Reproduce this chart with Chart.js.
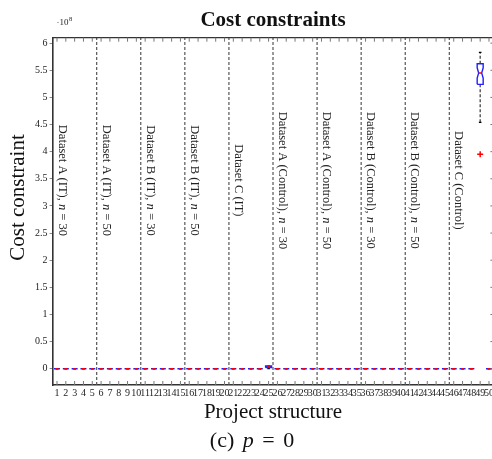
<!DOCTYPE html>
<html>
<head>
<meta charset="utf-8">
<script src="https://cdn.jsdelivr.net/npm/chart.js@4.4.1/dist/chart.umd.min.js"></script>
<style>
html, body { margin: 0; padding: 0; overflow: hidden; background: #fff; }
#wrap { position: relative; width: 500px; height: 459px; }
#caption { position: absolute; left: 0; width: 504px; top: 429px; text-align: center;
  font: 22px "Liberation Serif", serif; line-height: 22px; word-spacing: 3px; color: #111; }
</style>
</head>
<body>
<div id="wrap">
<canvas id="chart" width="500" height="459"></canvas>
<div id="caption">(c) <i>p</i> = 0</div>
</div>
<script>
// project structures 1..50, values in units of 1e8
var structures = [1, 2, 3, 4, 5, 6, 7, 8, 9, 10, 11, 12, 13, 14, 15, 16, 17, 18, 19, 20,
    21, 22, 23, 24, 25, 26, 27, 28, 29, 30, 31, 32, 33, 34, 35, 36, 37, 38, 39, 40,
    41, 42, 43, 44, 45, 46, 47, 48, 49, 50];
var q1 = [0, 0, 0, 0, 0, 0, 0, 0, 0, 0, 0, 0, 0, 0, 0, 0, 0, 0, 0, 0,
    0, 0, 0, 0, 0.02, 0, 0, 0, 0, 0, 0, 0, 0, 0, 0, 0, 0, 0, 0, 0,
    0, 0, 0, 0, 0, 0, 0, 0, 5.24, 0];
var median = [0, 0, 0, 0, 0, 0, 0, 0, 0, 0, 0, 0, 0, 0, 0, 0, 0, 0, 0, 0,
    0, 0, 0, 0, 0.035, 0, 0, 0, 0, 0, 0, 0, 0, 0, 0, 0, 0, 0, 0, 0,
    0, 0, 0, 0, 0, 0, 0, 0, 5.45, 0];
var q3 = [0, 0, 0, 0, 0, 0, 0, 0, 0, 0, 0, 0, 0, 0, 0, 0, 0, 0, 0, 0,
    0, 0, 0, 0, 0.05, 0, 0, 0, 0, 0, 0, 0, 0, 0, 0, 0, 0, 0, 0, 0,
    0, 0, 0, 0, 0, 0, 0, 0, 5.62, 0];
var whiskerLo = [0, 0, 0, 0, 0, 0, 0, 0, 0, 0, 0, 0, 0, 0, 0, 0, 0, 0, 0, 0,
    0, 0, 0, 0, 0, 0, 0, 0, 0, 0, 0, 0, 0, 0, 0, 0, 0, 0, 0, 0,
    0, 0, 0, 0, 0, 0, 0, 0, 4.54, 0];
var whiskerHi = [0, 0, 0, 0, 0, 0, 0, 0, 0, 0, 0, 0, 0, 0, 0, 0, 0, 0, 0, 0,
    0, 0, 0, 0, 0.05, 0, 0, 0, 0, 0, 0, 0, 0, 0, 0, 0, 0, 0, 0, 0,
    0, 0, 0, 0, 0, 0, 0, 0, 5.83, 0];
var outlierStructure = [49];
var outlierValue = [3.95];

var separators = [5.5, 10.5, 15.5, 20.5, 25.5, 30.5, 35.5, 40.5, 45.5];
var groupNames = ['Dataset A (IT)', 'Dataset A (IT)', 'Dataset B (IT)', 'Dataset B (IT)', 'Dataset C (IT)',
    'Dataset A (Control)', 'Dataset A (Control)', 'Dataset B (Control)', 'Dataset B (Control)', 'Dataset C (Control)'];
var groupSizes = [30, 50, 30, 50, null, 30, 50, 30, 50, null];
var yTicks = [0, 0.5, 1, 1.5, 2, 2.5, 3, 3.5, 4, 4.5, 5, 5.5, 6];

var yMin = -0.3, yMax = 6.1;
var boxHalf = 0.34;
var serif = '"Liberation Serif", "Times New Roman", serif';

Chart.defaults.font.family = serif;
Chart.defaults.color = '#222';

// separator lines between dataset groups
var sepData = [];
separators.forEach(function (s) {
    sepData.push({x: s, y: yMin}, {x: s, y: yMax}, {x: s, y: null});
});

// notched box outlines, whiskers and whisker ends
var boxData = [], whiskerData = [], capData = [], medianData = [];
structures.forEach(function (s, i) {
    var notch = 0.25 * (q3[i] - q1[i]);
    var nLo = Math.max(q1[i], median[i] - notch), nHi = Math.min(q3[i], median[i] + notch);
    boxData.push(
        {x: s - boxHalf, y: q1[i]}, {x: s - boxHalf, y: nLo}, {x: s - boxHalf / 2, y: median[i]},
        {x: s - boxHalf, y: nHi}, {x: s - boxHalf, y: q3[i]}, {x: s + boxHalf, y: q3[i]},
        {x: s + boxHalf, y: nHi}, {x: s + boxHalf / 2, y: median[i]}, {x: s + boxHalf, y: nLo},
        {x: s + boxHalf, y: q1[i]}, {x: s - boxHalf, y: q1[i]}, {x: s, y: null});
    whiskerData.push({x: s, y: q3[i]}, {x: s, y: whiskerHi[i]}, {x: s, y: null},
        {x: s, y: q1[i]}, {x: s, y: whiskerLo[i]}, {x: s, y: null});
    capData.push({x: s, y: whiskerHi[i]}, {x: s, y: whiskerLo[i]});
    medianData.push({x: s, y: median[i]});
});
var outlierData = outlierStructure.map(function (s, i) { return {x: s, y: outlierValue[i]}; });

var decorations = {
    id: 'decorations',
    afterDraw: function (chart) {
        var ctx = chart.ctx, a = chart.chartArea, xs = chart.scales.x, ys = chart.scales.y;
        ctx.save();
        // top and right frame
        ctx.strokeStyle = '#333';
        ctx.lineWidth = 1.2;
        ctx.beginPath();
        ctx.moveTo(a.left, a.top);
        ctx.lineTo(a.right, a.top);
        ctx.lineTo(a.right, a.bottom);
        ctx.stroke();
        // inward ticks
        ctx.strokeStyle = '#777';
        ctx.lineWidth = 1;
        ctx.beginPath();
        xs.ticks.forEach(function (t) {
            var px = xs.getPixelForValue(t.value);
            ctx.moveTo(px, a.bottom); ctx.lineTo(px, a.bottom - 4);
            ctx.moveTo(px, a.top); ctx.lineTo(px, a.top + 4);
        });
        ys.ticks.forEach(function (t) {
            var py = ys.getPixelForValue(t.value);
            ctx.moveTo(a.right, py); ctx.lineTo(a.right - 3, py);
        });
        ctx.stroke();

        // group labels, rotated
        var starts = [0.5].concat(separators);
        ctx.fillStyle = '#222';
        ctx.textBaseline = 'middle';
        ctx.textAlign = 'left';
        var normal = '12.5px ' + serif, italic = 'italic 12.5px ' + serif;
        groupNames.forEach(function (name, i) {
            var parts = [[name, normal]];
            if (groupSizes[i] !== null) {
                parts = [[name + ', ', normal], ['n', italic], [' = ' + groupSizes[i], normal]];
            }
            var total = 0;
            parts.forEach(function (p) { ctx.font = p[1]; total += ctx.measureText(p[0]).width; });
            ctx.save();
            ctx.translate(xs.getPixelForValue(starts[i] + 1.05), ys.getPixelForValue(3.47));
            ctx.rotate(Math.PI / 2);
            var pos = -total / 2;
            parts.forEach(function (p) {
                ctx.font = p[1];
                ctx.fillText(p[0], pos, 0);
                pos += ctx.measureText(p[0]).width;
            });
            ctx.restore();
        });

        // exponent marker
        ctx.textAlign = 'left';
        ctx.textBaseline = 'alphabetic';
        ctx.font = '9px ' + serif;
        ctx.fillText('\u00b710', a.left + 4, 25);
        var w = ctx.measureText('\u00b710').width;
        ctx.font = '6.5px ' + serif;
        ctx.fillText('8', a.left + 4 + w + 0.5, 21);

        // y axis title
        ctx.save();
        ctx.translate(18, 197.5);
        ctx.rotate(-Math.PI / 2);
        ctx.font = '21px ' + serif;
        ctx.textAlign = 'center';
        ctx.textBaseline = 'middle';
        ctx.fillStyle = '#111';
        ctx.fillText('Cost constraint', 0, 0);
        ctx.restore();
        ctx.restore();
    }
};

new Chart(document.getElementById('chart'), {
    type: 'scatter',
    data: {
        datasets: [
            {
                type: 'line', data: sepData, borderColor: '#555', borderWidth: 1.2,
                borderDash: [3, 2], pointRadius: 0, spanGaps: false, order: 10
            },
            {
                type: 'line', data: whiskerData, borderColor: '#333', borderWidth: 1.2,
                borderDash: [3, 2], pointRadius: 0, spanGaps: false, order: 6
            },
            {
                type: 'scatter', data: capData, pointStyle: 'line', pointRadius: 1.3,
                borderColor: '#000', borderWidth: 1.2, order: 5
            },
            {
                type: 'line', data: boxData, borderColor: '#2020ff', borderWidth: 1.4,
                pointRadius: 0, spanGaps: false, order: 4
            },
            {
                type: 'scatter', data: medianData, pointStyle: 'line', pointRadius: 1.5,
                borderColor: '#ff0000', borderWidth: 1.5, order: 2
            },
            {
                type: 'scatter', data: outlierData, pointStyle: 'cross', pointRadius: 3,
                borderColor: '#ff0000', borderWidth: 1.5, order: 1
            }
        ]
    },
    options: {
        responsive: false,
        animation: false,
        layout: { padding: { left: 0, right: 6.6, top: 0, bottom: 33.5 } },
        plugins: {
            legend: { display: false },
            tooltip: { enabled: false },
            title: {
                display: true, text: 'Cost constraints', fullSize: false, color: '#111',
                font: { size: 21, weight: 'bold' }, padding: { top: 8.4, bottom: 4.1 }
            }
        },
        scales: {
            x: {
                type: 'linear', min: 0.5, max: 50.5,
                afterBuildTicks: function (s) { s.ticks = structures.map(function (v) { return {value: v}; }); },
                afterFit: function (s) { s.height = 40.5; },
                ticks: {
                    autoSkip: false, maxRotation: 0, minRotation: 0, padding: 2,
                    font: { size: 10 }, color: '#222',
                    callback: function (v) { return String(v); }
                },
                grid: { drawOnChartArea: false, drawTicks: false },
                border: { color: '#333', width: 1.6 },
                title: { display: true, text: 'Project structure', font: { size: 21 }, padding: 0, color: '#111' }
            },
            y: {
                min: yMin, max: yMax,
                afterBuildTicks: function (s) { s.ticks = yTicks.map(function (v) { return {value: v}; }); },
                afterFit: function (s) { s.width = 52.6; },
                ticks: {
                    font: { size: 10 }, color: '#222', padding: 2,
                    callback: function (v) { return String(v); }
                },
                grid: { drawOnChartArea: false, tickLength: 3, color: '#888' },
                border: { color: '#333', width: 1.6 }
            }
        }
    },
    plugins: [decorations]
});
</script>
</body>
</html>
